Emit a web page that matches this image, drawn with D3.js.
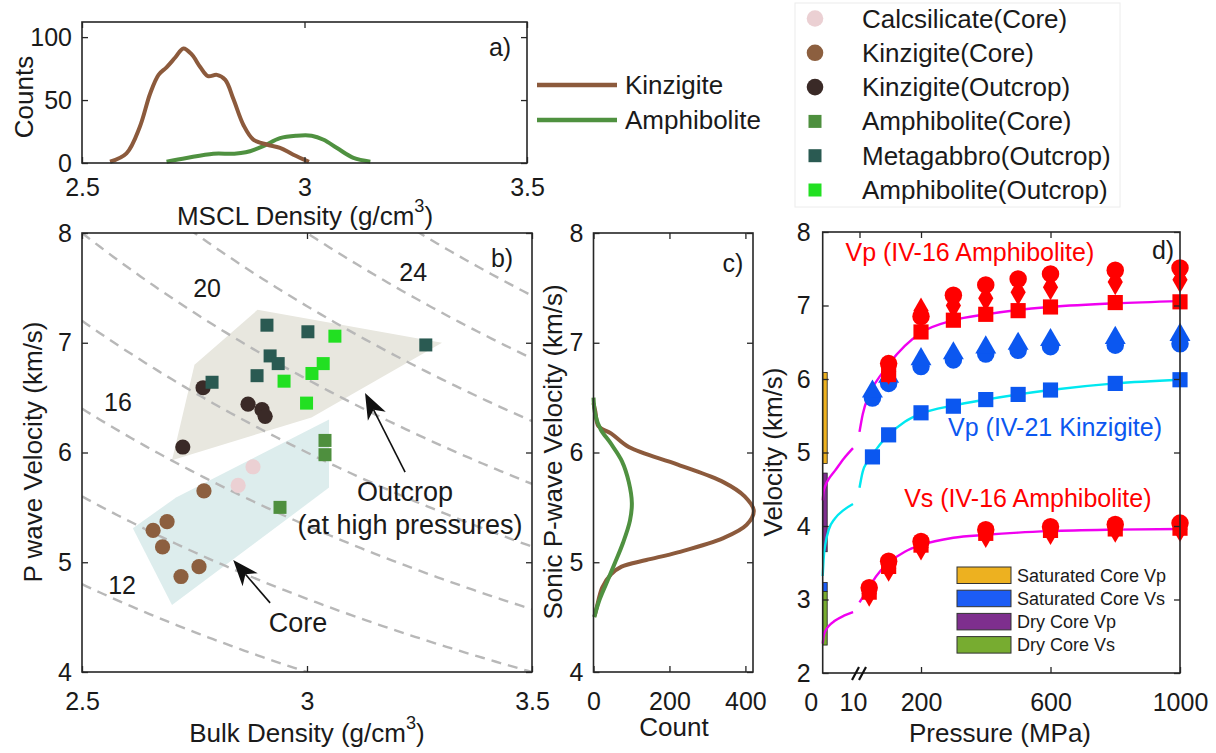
<!DOCTYPE html>
<html>
<head>
<meta charset="utf-8">
<title>Density and velocity of Ivrea rocks</title>
<script src="https://cdn.jsdelivr.net/npm/d3@7"></script>
<style>
  html, body { margin: 0; padding: 0; background: #fff; }
  svg { display: block; }
  text { font-family: "Liberation Sans", Arial, Helvetica, sans-serif; fill: #1a1a1a; }
</style>
</head>
<body>
<svg id="fig" width="1216" height="753"></svg>
<script>
// ---------------- a) MSCL density distributions ----------------
const msclKinzDensity = [2.563, 2.60, 2.63, 2.653, 2.672, 2.69, 2.71, 2.728, 2.747, 2.766, 2.783, 2.803, 2.822, 2.84, 2.863, 2.885, 2.915, 2.945, 2.975, 3.01];
const msclKinzCounts  = [1, 7.7, 28.8, 55, 70, 76, 84, 91, 86, 76, 69, 70, 66, 51, 30, 18.6, 14.7, 12, 6.6, 1];
const msclAmphDensity = [2.69, 2.735, 2.795, 2.84, 2.868, 2.906, 2.945, 2.982, 3.016, 3.043, 3.073, 3.11, 3.148];
const msclAmphCounts  = [1, 4, 7.4, 7.4, 8.5, 13.2, 19.8, 21.7, 21.7, 18.5, 11.9, 4, 1];
const msclTicksX = [2.5, 3, 3.5];
const msclTicksY = [0, 50, 100];

// ---------------- b) bulk density vs P-wave velocity ----------------
const calcCoreDensity = [2.88, 2.847];
const calcCoreVp      = [5.87, 5.70];
const kinzCoreDensity = [2.771, 2.658, 2.689, 2.679, 2.72, 2.76];
const kinzCoreVp      = [5.65, 5.29, 5.37, 5.14, 4.87, 4.96];
const kinzOutDensity  = [2.769, 2.724, 2.869, 2.90, 2.907];
const kinzOutVp       = [6.59, 6.05, 6.44, 6.39, 6.33];
const amphCoreDensity = [3.04, 3.04, 2.94];
const amphCoreVp      = [6.11, 5.98, 5.50];
const gabbroDensity   = [2.789, 2.911, 2.918, 2.889, 2.936, 3.002, 3.264];
const gabbroVp        = [6.64, 7.16, 6.88, 6.70, 6.81, 7.10, 6.98];
const amphOutDensity  = [3.062, 3.036, 3.011, 2.949, 2.999];
const amphOutVp       = [7.06, 6.81, 6.72, 6.65, 6.45];

const outcropHullDensity = [2.70, 2.75, 2.89, 3.30, 3.01];
const outcropHullVp      = [5.93, 6.80, 7.30, 7.00, 6.32];
const coreHullDensity    = [2.613, 2.709, 3.049, 3.049, 2.70];
const coreHullVp         = [5.31, 5.59, 6.30, 5.68, 4.61];

// acoustic impedance contours (Z = density x velocity)
const impedanceLevels = [10, 12, 14, 16, 18, 20, 22, 24, 26, 28];
const impedanceLabelText    = ["12", "16", "20", "24"];
const impedanceLabelDensity = [2.589, 2.58, 2.778, 3.236];
const impedanceLabelVp      = [4.79, 6.46, 7.50, 7.645];
const bulkTicksX = [2.5, 3, 3.5];
const velTicks = [4, 5, 6, 7, 8];

// ---------------- c) sonic log velocity distributions ----------------
const sonicKinzVp    = [6.45, 6.37, 6.24, 6.175, 6.05, 5.89, 5.73, 5.60, 5.47, 5.34, 5.22, 5.09, 5.02, 4.96, 4.89, 4.77, 4.61, 4.51];
const sonicKinzCount = [0, 5, 13, 46, 93, 222, 342, 398, 422, 403, 342, 222, 139, 74, 46, 23, 10, 3];
const sonicAmphVp    = [6.5, 6.34, 6.21, 6.08, 5.92, 5.73, 5.54, 5.38, 5.18, 4.99, 4.80, 4.64, 4.5];
const sonicAmphCount = [0, 5, 19, 46, 75, 93, 101, 96, 78, 56, 33, 14, 2];
const countTicks = [0, 200, 400];

// ---------------- d) laboratory velocities vs pressure ----------------
const vpAmphP       = [100, 200, 300, 400, 500, 600, 800, 1000];
const vpAmphCircle  = [6.21, 6.85, 7.14, 7.28, 7.36, 7.43, 7.48, 7.51];
const vpAmphDiamond = [6.10, 6.93, 7.00, 7.10, 7.18, 7.25, 7.32, 7.35];
const vpAmphSquare  = [6.06, 6.64, 6.80, 6.88, 6.93, 6.98, 7.04, 7.05];

const vpKinzP        = [50, 100, 200, 300, 400, 500, 600, 800, 1000];
const vpKinzCircle   = [5.74, 5.94, 6.17, 6.26, 6.34, 6.39, 6.44, 6.46, 6.48];
const vpKinzTriangle = [5.83, 6.03, 6.27, 6.35, 6.43, 6.48, 6.53, 6.56, 6.60];
const vpKinzSquare   = [4.94, 5.24, 5.54, 5.63, 5.72, 5.79, 5.85, 5.94, 5.99];

const vsAmphP       = [40, 100, 200, 400, 600, 800, 1000];
const vsAmphCircle  = [3.16, 3.52, 3.79, 3.95, 3.99, 4.02, 4.04];
const vsAmphDiamond = [3.08, 3.42, 3.71, 3.88, 3.92, 3.95, 3.96];
const vsAmphSquare  = [3.10, 3.45, 3.74, 3.90, 3.94, 3.96, 3.97];

// fitted trends, low-pressure part (0-10 MPa, stretched) and main part
const fitLowP       = [0, 0.3, 1, 2, 4, 7, 10];
const vpAmphFitLow  = [4.35, 4.47, 4.56, 4.64, 4.75, 4.92, 5.06];
const vpKinzFitLow  = [3.32, 3.55, 3.78, 3.95, 4.10, 4.22, 4.30];
const vsAmphFitLow  = [2.40, 2.50, 2.58, 2.64, 2.71, 2.78, 2.83];
const fitHighP      = [10, 20, 35, 50, 75, 100, 150, 200, 300, 400, 500, 600, 800, 1000];
const vpAmphFitHigh = [5.28, 5.52, 5.74, 5.88, 6.05, 6.20, 6.45, 6.63, 6.80, 6.88, 6.94, 6.98, 7.03, 7.06];
const vpKinzFitHigh = [4.52, 4.74, 4.88, 4.97, 5.12, 5.24, 5.42, 5.53, 5.64, 5.72, 5.79, 5.85, 5.94, 5.99];
const vsAmphFitHigh = [2.96, 3.03, 3.12, 3.24, 3.39, 3.50, 3.65, 3.74, 3.84, 3.88, 3.91, 3.93, 3.95, 3.96];

// core measurements at ambient pressure (ranges)
const coreRangeNames = ["Saturated Core Vp", "Saturated Core Vs", "Dry Core Vp", "Dry Core Vs"];
const coreRangeLow   = [4.85, 3.11, 3.65, 2.38];
const coreRangeHigh  = [6.09, 3.23, 4.72, 3.11];
const coreRangeColor = ["#edb120", "#1c5cf5", "#7e2f8e", "#77ac30"];
const pressureTicks = [200, 600, 1000];
const dVelTicks = [2, 3, 4, 5, 6, 7, 8];

// ================= drawing =================
const svg = d3.select("#fig");
const INK = "#262626";
const TICK_FONT = 25;
const LABEL_FONT = 26;

const boxA = {l: 82, r: 527, t: 22, b: 163};
const boxB = {l: 82, r: 532, t: 233, b: 672};
const boxC = {l: 593.5, r: 753, t: 233, b: 672};
const boxD = {l: 822.7, r: 1180, t: 232, b: 673};

function styleAxis(sel) {
  sel.selectAll(".domain").remove();
  sel.selectAll(".tick line").attr("stroke-width", 1.3);
  sel.selectAll("g").attr("font-size", TICK_FONT).attr("font-family", null);
}

function frame(g, box, x, y, cfg) {
  const ax = g.append("g").attr("color", INK);
  if (x) {
    ax.append("g").attr("transform", `translate(0,${box.b})`)
      .call(d3.axisBottom(x).tickValues(cfg.xTicks).tickFormat(d => String(d))
        .tickSizeInner(-6).tickSizeOuter(0).tickPadding(cfg.xPad));
    ax.append("g").attr("transform", `translate(0,${box.t})`)
      .call(d3.axisTop(x).tickValues(cfg.xTicks).tickFormat("").tickSizeInner(-6).tickSizeOuter(0));
  }
  ax.append("g").attr("transform", `translate(${box.l},0)`)
    .call(d3.axisLeft(y).tickValues(cfg.yTicks).tickFormat(d => String(d))
      .tickSizeInner(-6).tickSizeOuter(0).tickPadding(10));
  ax.append("g").attr("transform", `translate(${box.r},0)`)
    .call(d3.axisRight(y).tickValues(cfg.yTicks).tickFormat("").tickSizeInner(-6).tickSizeOuter(0));
  styleAxis(ax);
  g.append("rect").attr("x", box.l).attr("y", box.t)
    .attr("width", box.r - box.l).attr("height", box.b - box.t)
    .attr("fill", "none").attr("stroke", INK).attr("stroke-width", 1.6);
  return ax;
}

function label(g, txt, x, y, opts = {}) {
  const t = g.append("text").attr("x", x).attr("y", y)
    .attr("font-size", opts.size || LABEL_FONT)
    .attr("text-anchor", opts.anchor || "middle")
    .attr("dominant-baseline", "central");
  if (opts.rotate) t.attr("transform", `rotate(-90,${x},${y})`);
  if (opts.fill) t.style("fill", opts.fill);
  if (opts.sup) {
    t.append("tspan").text(txt);
    t.append("tspan").attr("font-size", (opts.size || LABEL_FONT) * 0.7).attr("dy", "-0.55em").text(opts.sup);
    t.append("tspan").attr("dy", "0.38em").text(opts.after || "");
  } else {
    t.text(txt);
  }
  return t;
}

// ---------- panel a ----------
const gA = svg.append("g");
const xA = d3.scaleLinear().domain([2.5, 3.5]).range([boxA.l, boxA.r]);
const yA = d3.scaleLinear().domain([0, 112]).range([boxA.b, boxA.t]);
const lineA = d3.line().x(d => xA(d[0])).y(d => yA(d[1])).curve(d3.curveCatmullRom.alpha(0.5));
const kinzA = d3.zip(msclKinzDensity, msclKinzCounts);
const amphA = d3.zip(msclAmphDensity, msclAmphCounts);
gA.append("path").attr("d", lineA(amphA)).attr("fill", "none").attr("stroke", "#4f9140").attr("stroke-width", 4).attr("stroke-linejoin", "round");
gA.append("path").attr("d", lineA(kinzA)).attr("fill", "none").attr("stroke", "#8c5a3c").attr("stroke-width", 4).attr("stroke-linejoin", "round");
frame(gA, boxA, xA, yA, {xTicks: msclTicksX, yTicks: msclTicksY, xPad: 15});
label(gA, "Counts", 24, 97, {rotate: true});
label(gA, "MSCL Density (g/cm", 305, 216, {sup: "3", after: ")"});
label(gA, "a)", 500, 47, {size: TICK_FONT});

// legend for a
const legA = [["Kinzigite", "#8c5a3c"], ["Amphibolite", "#4f9140"]];
legA.forEach((d, i) => {
  const yy = 85 + i * 35;
  gA.append("line").attr("x1", 537).attr("x2", 617).attr("y1", yy).attr("y2", yy)
    .attr("stroke", d[1]).attr("stroke-width", 4.5);
  label(gA, d[0], 625, yy, {anchor: "start"});
});

// ---------- symbol legend (top right) ----------
const gL = svg.append("g");
gL.append("rect").attr("x", 795).attr("y", 3).attr("width", 325).attr("height", 204)
  .attr("fill", "#fff").attr("stroke", "#ececec").attr("stroke-width", 1);
const legendNames = ["Calcsilicate(Core)", "Kinzigite(Core)", "Kinzigite(Outcrop)", "Amphibolite(Core)", "Metagabbro(Outcrop)", "Amphibolite(Outcrop)"];
const legendColors = ["#ebd0d3", "#8c5f3f", "#3a2a27", "#4e8f3e", "#2a5a52", "#22e022"];
const legendShapes = ["circle", "circle", "circle", "square", "square", "square"];
legendNames.forEach((n, i) => {
  const yy = 18.5 + i * 34.3;
  if (legendShapes[i] === "circle") {
    gL.append("circle").attr("cx", 815).attr("cy", yy).attr("r", 8.3).attr("fill", legendColors[i]);
  } else {
    gL.append("rect").attr("x", 815 - 6.5).attr("y", yy - 6.5).attr("width", 13).attr("height", 13).attr("fill", legendColors[i]);
  }
  label(gL, n, 862, yy, {anchor: "start"});
});

// ---------- panel b ----------
const gB = svg.append("g");
const xB = d3.scaleLinear().domain([2.5, 3.5]).range([boxB.l, boxB.r]);
const yB = d3.scaleLinear().domain([4, 8]).range([boxB.b, boxB.t]);
svg.append("defs").append("clipPath").attr("id", "clipB")
  .append("rect").attr("x", boxB.l).attr("y", boxB.t).attr("width", boxB.r - boxB.l).attr("height", boxB.b - boxB.t);

const hullPath = (ds, vs) => "M" + ds.map((d, i) => `${xB(d)},${yB(vs[i])}`).join("L") + "Z";
gB.append("path").attr("d", hullPath(outcropHullDensity, outcropHullVp)).attr("fill", "#e8e7df");
gB.append("path").attr("d", hullPath(coreHullDensity, coreHullVp)).attr("fill", "#ddeded");

const densGrid = d3.range(2.5, 3.5001, 0.01);
const zLine = d3.line().x(d => xB(d[0])).y(d => yB(d[1]));
const gZ = gB.append("g").attr("clip-path", "url(#clipB)");
impedanceLevels.forEach(z => {
  gZ.append("path").attr("d", zLine(densGrid.map(r => [r, z / r])))
    .attr("fill", "none").attr("stroke", "#b8b8b8").attr("stroke-width", 2.4)
    .attr("stroke-dasharray", "10,7");
});
impedanceLabelText.forEach((t, i) => {
  label(gB, t, xB(impedanceLabelDensity[i]), yB(impedanceLabelVp[i]), {size: TICK_FONT});
});

function dots(g, xs, ys, color, shape, x, y) {
  xs.forEach((d, i) => {
    if (shape === "circle") {
      g.append("circle").attr("cx", x(d)).attr("cy", y(ys[i])).attr("r", 7.6).attr("fill", color);
    } else {
      g.append("rect").attr("x", x(d) - 6.5).attr("y", y(ys[i]) - 6.5).attr("width", 13).attr("height", 13).attr("fill", color);
    }
  });
}
dots(gB, calcCoreDensity, calcCoreVp, legendColors[0], "circle", xB, yB);
dots(gB, kinzCoreDensity, kinzCoreVp, legendColors[1], "circle", xB, yB);
dots(gB, kinzOutDensity, kinzOutVp, legendColors[2], "circle", xB, yB);
dots(gB, amphCoreDensity, amphCoreVp, legendColors[3], "square", xB, yB);
dots(gB, gabbroDensity, gabbroVp, legendColors[4], "square", xB, yB);
dots(gB, amphOutDensity, amphOutVp, legendColors[5], "square", xB, yB);

// annotation arrows (tail -> head, data coordinates)
const arrowTails = [[3.218, 5.822], [2.918, 4.63]];
const arrowHeads = [[3.129, 6.542], [2.836, 5.02]];
arrowTails.forEach((tail, i) => {
  const x0 = xB(tail[0]), y0 = yB(tail[1]);
  const x1 = xB(arrowHeads[i][0]), y1 = yB(arrowHeads[i][1]);
  const ang = Math.atan2(y1 - y0, x1 - x0);
  const L = 26, W = 10;
  const bx = x1 - L * Math.cos(ang), by = y1 - L * Math.sin(ang);
  const nx = x1 - 0.72 * L * Math.cos(ang), ny = y1 - 0.72 * L * Math.sin(ang);
  const px = -Math.sin(ang) * W, py = Math.cos(ang) * W;
  gB.append("line").attr("x1", x0).attr("y1", y0).attr("x2", nx).attr("y2", ny)
    .attr("stroke", "#111").attr("stroke-width", 1.6);
  gB.append("path").attr("d", `M${x1},${y1}L${bx + px},${by + py}L${nx},${ny}L${bx - px},${by - py}Z`)
    .attr("fill", "#111");
});
label(gB, "Outcrop", xB(3.218), yB(5.64), {size: 27});
label(gB, "(at high pressures)", xB(3.229), yB(5.34), {size: 27});
label(gB, "Core", xB(2.98), yB(4.45), {size: 27});

frame(gB, boxB, xB, yB, {xTicks: bulkTicksX, yTicks: velTicks, xPad: 20});
label(gB, "P wave Velocity (km/s)", 33, 452, {rotate: true});
label(gB, "Bulk Density (g/cm", 307, 733, {sup: "3", after: ")"});
label(gB, "b)", 502, 258, {size: TICK_FONT});

// ---------- panel c ----------
const gC = svg.append("g");
const xC = d3.scaleLinear().domain([0, 420]).range([boxC.l, boxC.r]);
const yC = d3.scaleLinear().domain([4, 8]).range([boxC.b, boxC.t]);
const lineC = d3.line().x(d => xC(d[0])).y(d => yC(d[1])).curve(d3.curveCatmullRom.alpha(0.5));
gC.append("path").attr("d", lineC(d3.zip(sonicKinzCount, sonicKinzVp)))
  .attr("fill", "none").attr("stroke", "#8c5a3c").attr("stroke-width", 4);
gC.append("path").attr("d", lineC(d3.zip(sonicAmphCount, sonicAmphVp)))
  .attr("fill", "none").attr("stroke", "#4f9140").attr("stroke-width", 4);
frame(gC, boxC, xC, yC, {xTicks: countTicks, yTicks: velTicks, xPad: 20});
label(gC, "Sonic P-wave Velocity (km/s)", 553, 452, {rotate: true});
label(gC, "Count", 674, 727);
label(gC, "c)", 733, 263, {size: TICK_FONT});

// ---------- panel d ----------
const gD = svg.append("g");
const xLow = d3.scaleLinear().domain([0, 10]).range([boxD.l, 853]);
const xHigh = d3.scaleLinear().domain([10, 1000]).range([859.5, boxD.r]);
const yD = d3.scaleLinear().domain([2, 8]).range([boxD.b, boxD.t]);

// ambient-pressure core ranges
coreRangeNames.forEach((n, i) => {
  gD.append("rect").attr("x", xLow(0)).attr("y", yD(coreRangeHigh[i]))
    .attr("width", 4.5).attr("height", yD(coreRangeLow[i]) - yD(coreRangeHigh[i]))
    .attr("fill", coreRangeColor[i]).attr("stroke", "#222").attr("stroke-width", 0.8);
});

const fitLine = (xs) => d3.line().x(d => xs(d[0])).y(d => yD(d[1])).curve(d3.curveMonotoneX);
const fits = [
  [vpAmphFitLow, vpAmphFitHigh, "#f000f0"],
  [vpKinzFitLow, vpKinzFitHigh, "#00e8f0"],
  [vsAmphFitLow, vsAmphFitHigh, "#f000f0"]
];
fits.forEach(f => {
  gD.append("path").attr("d", fitLine(xLow)(d3.zip(fitLowP, f[0])))
    .attr("fill", "none").attr("stroke", f[2]).attr("stroke-width", 2.4);
  gD.append("path").attr("d", fitLine(xHigh)(d3.zip(fitHighP, f[1])))
    .attr("fill", "none").attr("stroke", f[2]).attr("stroke-width", 2.4);
});

const RED = "#ff0000", BLUE = "#0b57f0";
function symbols(g, ps, vs, type, size, color) {
  const sym = d3.symbol().type(type).size(size);
  ps.forEach((p, i) => {
    g.append("path").attr("d", sym()).attr("fill", color)
      .attr("transform", `translate(${xHigh(p)},${yD(vs[i])})`);
  });
}
symbols(gD, vpKinzP, vpKinzSquare, d3.symbolSquare, 230, BLUE);
symbols(gD, vpKinzP, vpKinzCircle, d3.symbolCircle, 240, BLUE);
symbols(gD, vpKinzP, vpKinzTriangle, d3.symbolTriangle, 190, BLUE);
symbols(gD, vpAmphP, vpAmphSquare, d3.symbolSquare, 230, RED);
symbols(gD, vpAmphP, vpAmphDiamond, d3.symbolDiamond, 200, RED);
symbols(gD, vpAmphP, vpAmphCircle, d3.symbolCircle, 240, RED);
symbols(gD, vsAmphP, vsAmphSquare, d3.symbolSquare, 230, RED);
symbols(gD, vsAmphP, vsAmphDiamond, d3.symbolDiamond, 200, RED);
symbols(gD, vsAmphP, vsAmphCircle, d3.symbolCircle, 240, RED);

// axes for d
const axD = gD.append("g").attr("color", INK);
axD.append("g").attr("transform", `translate(0,${boxD.b})`)
  .call(d3.axisBottom(xHigh).tickValues(pressureTicks).tickFormat(d => String(d))
    .tickSizeInner(-6).tickSizeOuter(0).tickPadding(20));
axD.append("g").attr("transform", `translate(0,${boxD.b})`)
  .call(d3.axisBottom(xLow).tickValues([0, 10]).tickFormat(d => String(d))
    .tickSizeInner(0).tickSizeOuter(0).tickPadding(20))
  .call(g => g.selectAll(".tick").filter(d => d === 0).select("text").attr("dx", -12));
axD.append("g").attr("transform", `translate(0,${boxD.t})`)
  .call(d3.axisTop(xHigh).tickValues([10, 200, 600]).tickFormat("").tickSizeInner(-6).tickSizeOuter(0));
axD.append("g").attr("transform", `translate(${boxD.l},0)`)
  .call(d3.axisLeft(yD).tickValues(dVelTicks).tickFormat(d => String(d))
    .tickSizeInner(-6).tickSizeOuter(0).tickPadding(12));
axD.append("g").attr("transform", `translate(${boxD.r},0)`)
  .call(d3.axisRight(yD).tickValues(dVelTicks).tickFormat("").tickSizeInner(-6).tickSizeOuter(0));
styleAxis(axD);
gD.append("rect").attr("x", boxD.l).attr("y", boxD.t)
  .attr("width", boxD.r - boxD.l).attr("height", boxD.b - boxD.t)
  .attr("fill", "none").attr("stroke", INK).attr("stroke-width", 1.6);

// axis break marks
const bx0 = xHigh(10);
[-4, 3].forEach(off => {
  gD.append("line").attr("x1", bx0 + off - 3.5).attr("y1", boxD.b + 7)
    .attr("x2", bx0 + off + 3.5).attr("y2", boxD.b - 6)
    .attr("stroke", "#111").attr("stroke-width", 2.2);
});

label(gD, "Velocity (km/s)", 773, 452, {rotate: true});
label(gD, "Pressure (MPa)", 1000, 733);
label(gD, "d)", 1163, 250, {size: TICK_FONT});
label(gD, "Vp (IV-16 Amphibolite)", xHigh(351), yD(7.73), {size: 25, fill: RED});
label(gD, "Vp (IV-21 Kinzigite)", xHigh(614), yD(5.35), {size: 25, fill: BLUE});
label(gD, "Vs (IV-16 Amphibolite)", xHigh(530), yD(4.38), {size: 25, fill: RED});

// legend of core ranges
coreRangeNames.forEach((n, i) => {
  const yy = 567 + i * 23.2;
  gD.append("rect").attr("x", 957).attr("y", yy).attr("width", 54).attr("height", 16.5)
    .attr("fill", coreRangeColor[i]).attr("stroke", "#333").attr("stroke-width", 1);
  label(gD, n, 1017, yy + 8.5, {anchor: "start", size: 18});
});
</script>
</body>
</html>
